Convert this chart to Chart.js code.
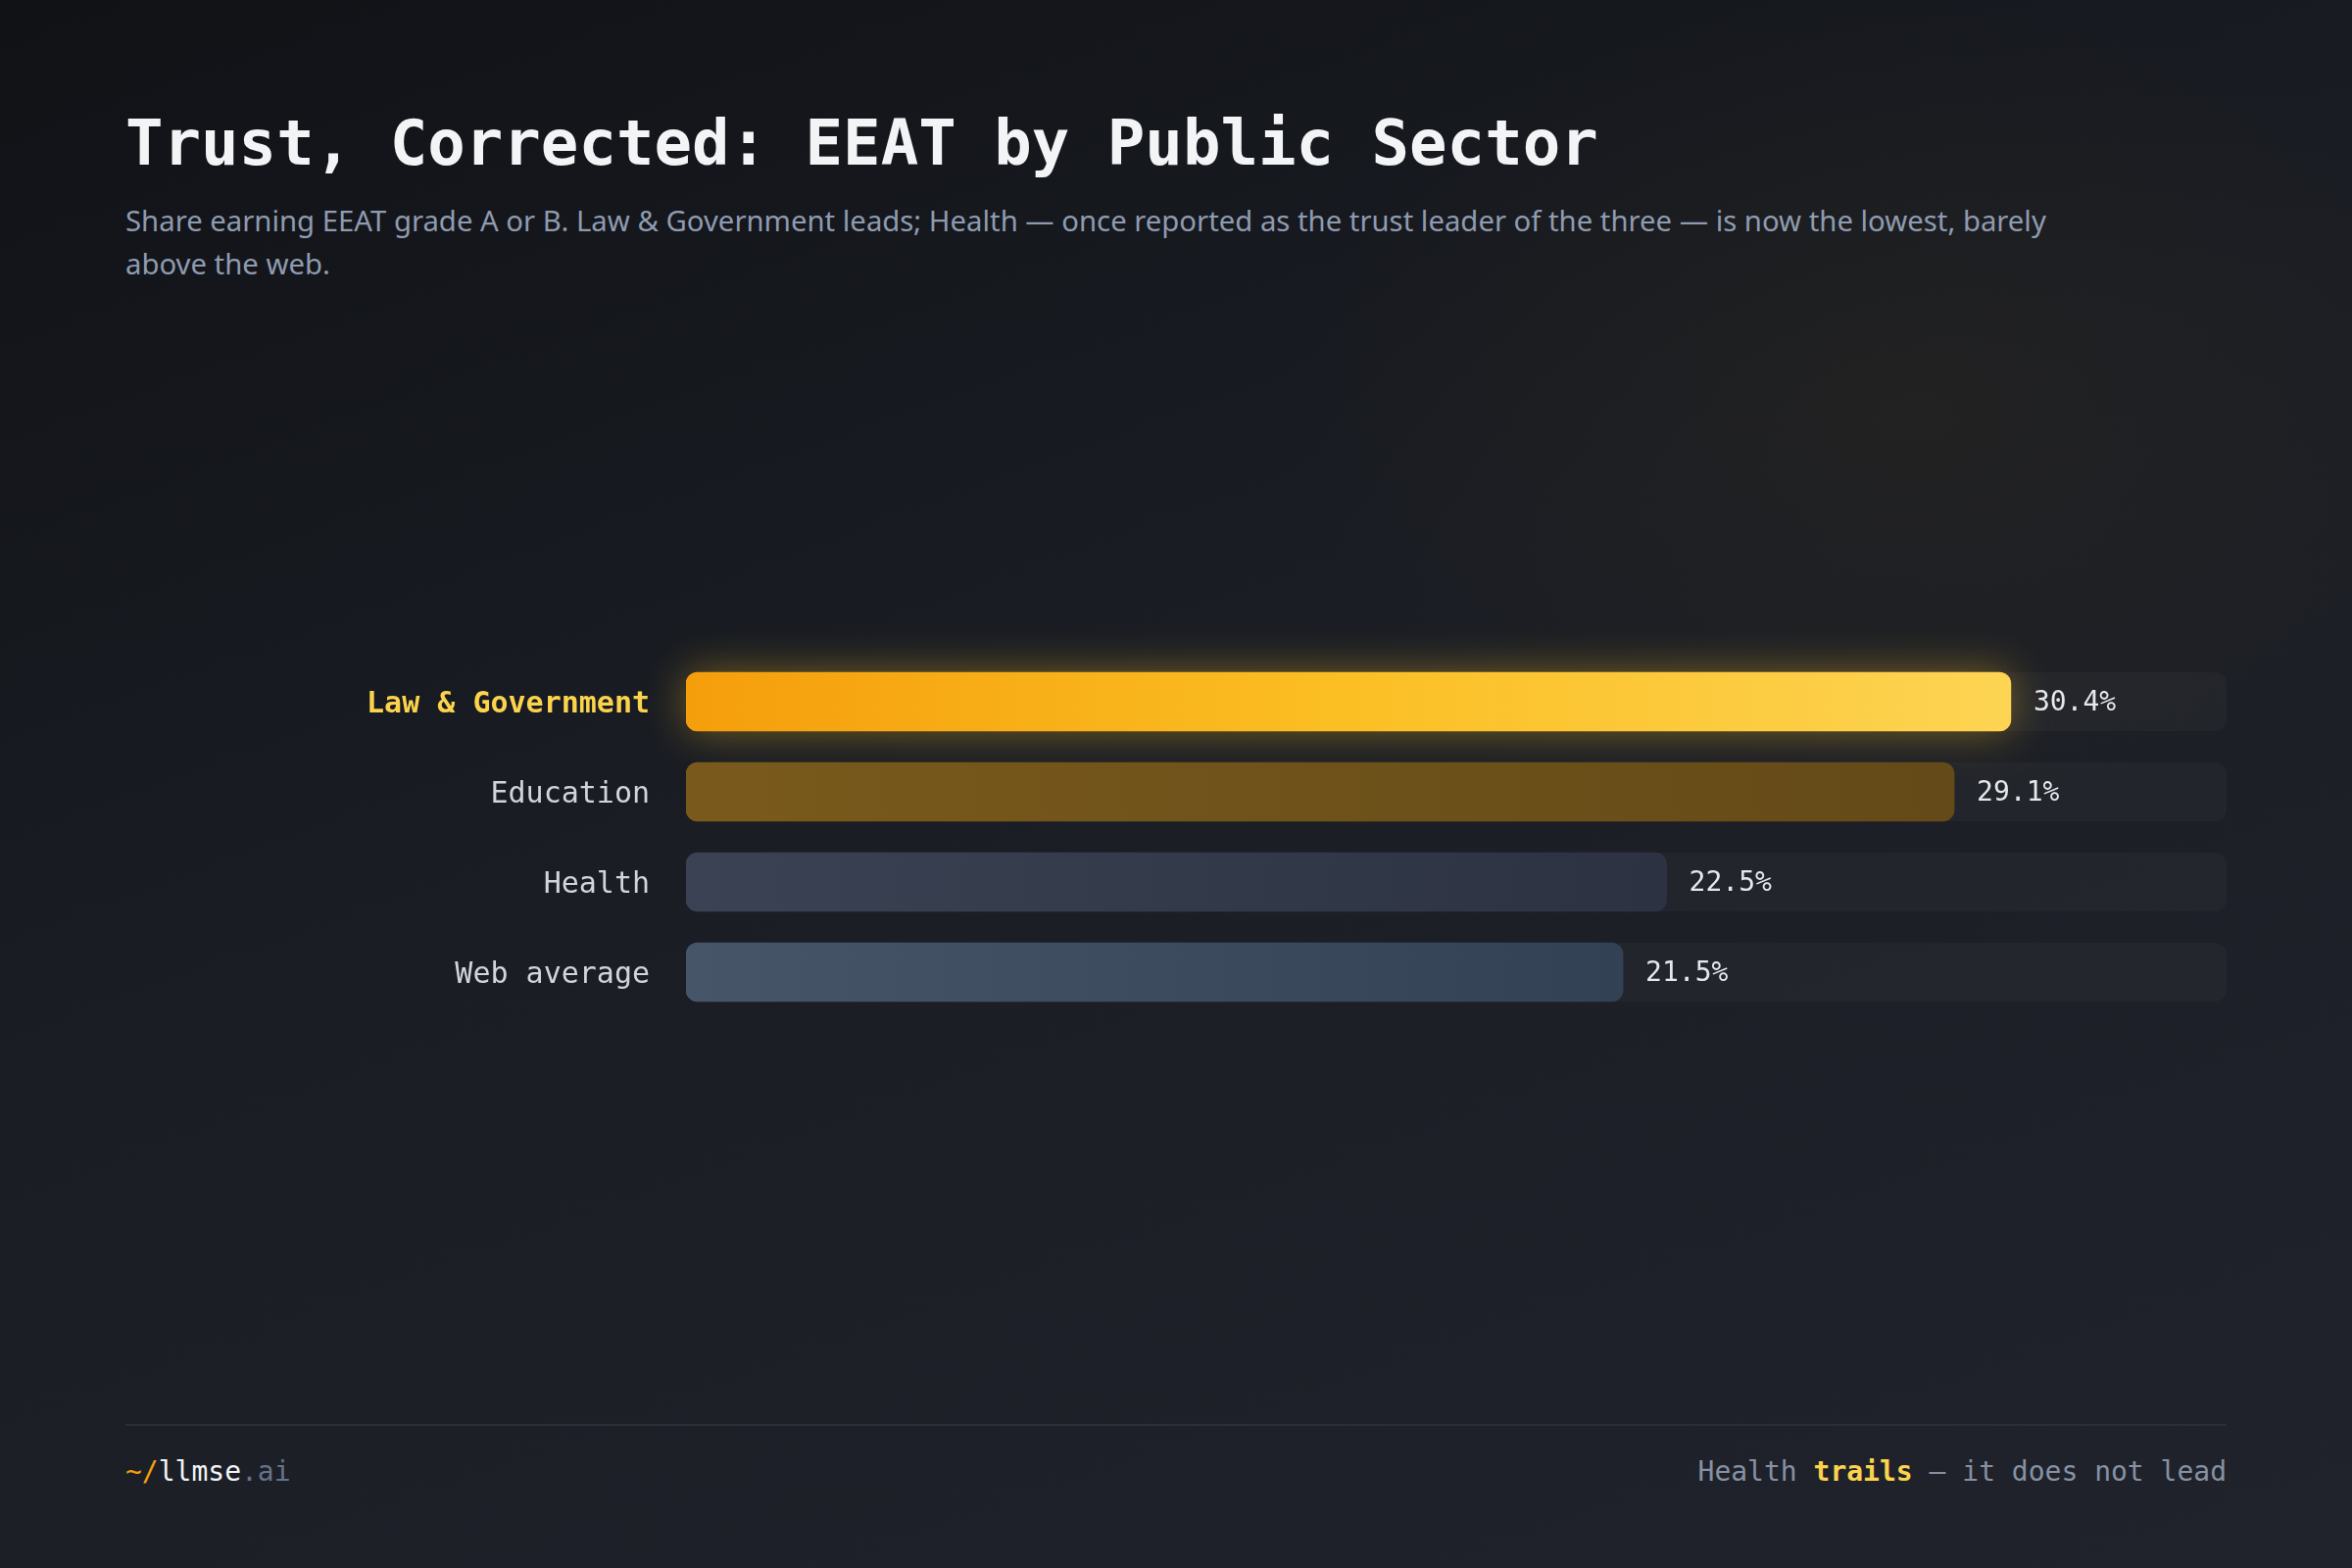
<!DOCTYPE html>
<html>
<head>
<meta charset="utf-8">
<script src="https://cdn.jsdelivr.net/npm/chart.js@4.4.1/dist/chart.umd.min.js"></script>
<style>
  html, body { margin:0; padding:0; }
  body {
    width:2400px; height:1600px; overflow:hidden; position:relative;
    background:
      radial-gradient(ellipse 900px 600px at 1950px 420px, rgba(70,55,25,0.18), rgba(70,55,25,0) 70%),
      linear-gradient(160deg, #101216 0%, #1a1d24 45%, #20232b 100%);
  }
  #title {
    position:absolute; left:128px; top:114px; margin:0;
    font-family:"DejaVu Sans Mono", monospace; font-weight:bold; font-size:64px; line-height:64px;
    color:#f3f4f6; white-space:nowrap;
  }
  #subtitle {
    position:absolute; left:128px; top:203px; margin:0;
    font-family:"Noto Sans", sans-serif; font-size:29.3px; line-height:44px;
    color:#8f9bb0; white-space:nowrap;
  }
  #chartBox { position:absolute; left:128px; top:615px; width:2144px; height:478px; }
  #rule { position:absolute; left:128px; top:1453px; width:2144px; height:2px; background:#2a2e38; }
  .foot { position:absolute; top:1488px; font-family:"DejaVu Sans Mono", monospace; font-size:28px; line-height:28px; white-space:nowrap; }
  #footL { left:128px; }
  #footR { right:128px; color:#8791a3; }
</style>
</head>
<body>
<h1 id="title">Trust, Corrected: EEAT by Public Sector</h1>
<p id="subtitle">Share earning EEAT grade A or B. Law &amp; Government leads; Health — once reported as the trust leader of the three — is now the lowest, barely<br>above the web.</p>
<div id="chartBox"><canvas id="c"></canvas></div>
<div id="rule"></div>
<div class="foot" id="footL"><span style="color:#f59e0b">~/</span><span style="color:#f3f4f6">llmse</span><span style="color:#64748b">.ai</span></div>
<div class="foot" id="footR">Health <span style="color:#fcd34d;font-weight:bold">trails</span> — it does not lead</div>
<script>
const categories = ["Law & Government", "Education", "Health", "Web average"];
const shares = [30.4, 29.1, 22.5, 21.5];
const valueLabels = ["30.4%", "29.1%", "22.5%", "21.5%"];
const axisMax = 35.35;

const barStops = [
  ["#f59e0b", "#fbbf24", "#fdd453"],
  ["#7a5a1c", "#6e521a", "#644a18"],
  ["#3b4253", "#333a4a", "#2c3242"],
  ["#475569", "#3d4b5f", "#334155"]
];
const labelColors = ["#fcd34d", "#d1d5db", "#d1d5db", "#d1d5db"];
const MONO = '"DejaVu Sans Mono", monospace';

function barGradient(ctx, i, x0, x1) {
  const g = ctx.createLinearGradient(x0, 0, x1, 0);
  const s = barStops[i];
  g.addColorStop(0, s[0]); g.addColorStop(0.5, s[1]); g.addColorStop(1, s[2]);
  return g;
}

const decor = {
  id: 'decor',
  beforeDatasetsDraw(chart) {
    const ctx = chart.ctx, area = chart.chartArea;
    const meta = chart.getDatasetMeta(0);
    ctx.save();
    meta.data.forEach((bar) => {
      const h = bar.height;
      ctx.fillStyle = 'rgba(255,255,255,0.028)';
      ctx.beginPath();
      ctx.roundRect(area.left, bar.y - h / 2, area.right - area.left, h, 12);
      ctx.fill();
    });
    // glow for the leading bar
    const b = meta.data[0];
    ctx.shadowColor = 'rgba(251,191,36,0.42)';
    ctx.shadowBlur = 44;
    ctx.fillStyle = barGradient(ctx, 0, b.base, b.x);
    ctx.beginPath();
    ctx.roundRect(b.base, b.y - b.height / 2, b.x - b.base, b.height, 12);
    ctx.fill();
    ctx.restore();
  },
  afterDatasetsDraw(chart) {
    const ctx = chart.ctx;
    const meta = chart.getDatasetMeta(0);
    ctx.save();
    ctx.font = '28px ' + MONO;
    ctx.fillStyle = '#e5e7eb';
    ctx.textAlign = 'left';
    ctx.textBaseline = 'middle';
    meta.data.forEach((bar, i) => {
      ctx.fillText(valueLabels[i], bar.x + 23, bar.y + 2);
    });
    ctx.restore();
  }
};

new Chart(document.getElementById('c'), {
  type: 'bar',
  data: {
    labels: categories,
    datasets: [{
      data: shares,
      barThickness: 60,
      borderRadius: 12,
      borderSkipped: false,
      backgroundColor: (c) => {
        const chart = c.chart;
        if (!chart.chartArea) return barStops[c.dataIndex][0];
        const x0 = chart.scales.x.getPixelForValue(0);
        const x1 = chart.scales.x.getPixelForValue(shares[c.dataIndex]);
        return barGradient(chart.ctx, c.dataIndex, x0, x1);
      }
    }]
  },
  options: {
    indexAxis: 'y',
    responsive: true,
    maintainAspectRatio: false,
    animation: false,
    layout: { padding: { top: 30, bottom: 30, left: 0, right: 0 } },
    plugins: { legend: { display: false }, tooltip: { enabled: false } },
    scales: {
      x: { display: false, min: 0, max: axisMax },
      y: {
        grid: { display: false, drawTicks: false },
        border: { display: false },
        afterFit(scale) { scale.width = 572; },
        ticks: {
          padding: 37,
          labelOffset: 3,
          color: (c) => labelColors[c.index],
          font: (c) => ({ family: MONO, size: 30, weight: c.index === 0 ? 'bold' : 'normal' })
        }
      }
    }
  },
  plugins: [decor]
});
</script>
</body>
</html>
